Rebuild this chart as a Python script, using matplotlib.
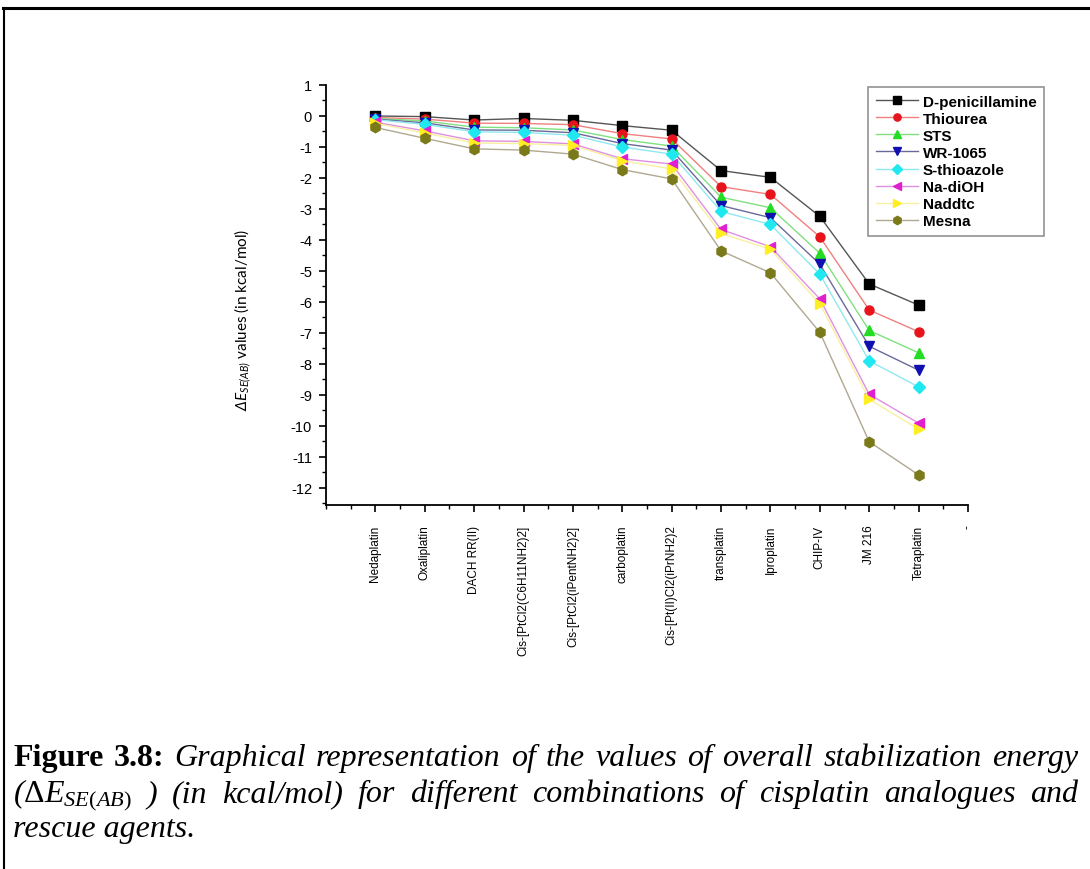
import matplotlib.pyplot as plt
from matplotlib.lines import Line2D
from matplotlib.ticker import MultipleLocator

plt.rcParams['axes.unicode_minus'] = False
plt.rcParams['mathtext.fontset'] = 'custom'
plt.rcParams['mathtext.rm'] = 'Liberation Serif'
plt.rcParams['mathtext.it'] = 'Liberation Serif:italic'
plt.rcParams['mathtext.sf'] = 'Lato:italic'

# drugs (x categories)
drugs = ['Nedaplatin', 'Oxaliplatin', 'DACH RR(II)', 'Cis-[PtCl2(C6H11NH2)2]',
         'Cis-[PtCl2(iPentNH2)2]', 'carboplatin', 'Cis-[Pt(II)Cl2(iPrNH2)2',
         'transplatin', 'Iproplatin', 'CHIP-IV', 'JM 216', 'Tetraplatin']

# rescue agents, values in kcal/mol
d_penicillamine = [0.0, -0.02, -0.13, -0.08, -0.14, -0.31, -0.46, -1.76, -1.98, -3.24, -5.42, -6.1]
thiourea = [-0.05, -0.1, -0.23, -0.24, -0.28, -0.57, -0.74, -2.28, -2.53, -3.9, -6.26, -6.96]
sts = [-0.08, -0.16, -0.36, -0.38, -0.45, -0.76, -0.97, -2.62, -2.96, -4.43, -6.92, -7.64]
wr1065 = [-0.1, -0.22, -0.45, -0.46, -0.54, -0.89, -1.1, -2.89, -3.28, -4.78, -7.43, -8.2]
s_thioazole = [-0.12, -0.27, -0.51, -0.53, -0.62, -1.0, -1.23, -3.08, -3.5, -5.1, -7.9, -8.74]
na_dioh = [-0.2, -0.48, -0.8, -0.82, -0.9, -1.38, -1.55, -3.66, -4.22, -5.9, -8.98, -9.91]
naddtc = [-0.24, -0.55, -0.87, -0.89, -0.95, -1.44, -1.71, -3.79, -4.3, -6.06, -9.14, -10.1]
mesna = [-0.37, -0.72, -1.06, -1.1, -1.23, -1.73, -2.03, -4.35, -5.06, -6.98, -10.51, -11.58]

series = [
    ('D-penicillamine', d_penicillamine, 's', 'black', '#555555'),
    ('Thiourea', thiourea, 'o', '#e8141c', '#f08080'),
    ('STS', sts, '^', '#22dd22', '#80e080'),
    ('WR-1065', wr1065, 'v', '#1010b0', '#6a6a9a'),
    ('S-thioazole', s_thioazole, 'D', '#20e8f0', '#90e8f0'),
    ('Na-diOH', na_dioh, '<', '#e020d0', '#e090e0'),
    ('Naddtc', naddtc, '>', '#ffee22', '#f8f0a0'),
    ('Mesna', mesna, 'h', '#7a7a1a', '#b0a890'),
]

W, H = 1090, 870
fig = plt.figure(figsize=(W / 100, H / 100), dpi=100)
ax = fig.add_axes([326 / W, 1 - 506 / H, (968 - 326) / W, (506 - 86) / H])

x = list(range(1, len(drugs) + 1))
for name, vals, mk, mc, lc in series:
    ms = 7.5 if mk == 'h' else (6 if mk == 'D' else 6.5)
    ax.plot(x, vals, color=lc, lw=1.0, marker=mk, markersize=ms,
            markerfacecolor=mc, markeredgecolor=mc, label=name)

ax.set_xlim(0, 13)
ax.set_ylim(-12.55, 1.0)
ax.set_xticks(x + [13])
ax.set_xticklabels(drugs + ['-'], rotation=90, fontsize=8.5, family='Liberation Sans')
ax.xaxis.set_minor_locator(MultipleLocator(0.5))
ax.yaxis.set_major_locator(MultipleLocator(1))
ax.yaxis.set_minor_locator(MultipleLocator(0.5))
for lab in ax.get_yticklabels():
    lab.set_family('Liberation Sans')
    lab.set_fontsize(10.5)
ax.tick_params(which='major', direction='out', length=5, width=1.2)
ax.tick_params(axis='x', which='major', pad=9)
ax.tick_params(axis='y', which='major', pad=5)
ax.tick_params(which='minor', direction='out', length=3, width=1.0)
ax.spines['top'].set_visible(False)
ax.spines['right'].set_visible(False)
ax.spines['left'].set_linewidth(1.3)
ax.spines['bottom'].set_linewidth(1.3)

fig.text(243 / W, 1 - 320 / H,
         r'$\mathsf{\Delta E}_{\mathsf{SE(AB)}}$ values (in kcal/mol)',
         rotation=90, ha='center', va='center', fontsize=11, family='Lato')

leg = fig.legend(loc='upper left', bbox_to_anchor=(868 / W, 1 - 88 / H),
                 borderaxespad=0, frameon=True, fancybox=False, edgecolor='#777777',
                 prop={'family': 'Liberation Sans', 'weight': 'bold', 'size': 11},
                 labelspacing=0.2, handlelength=2.8, handletextpad=0.3,
                 borderpad=0.5, markerscale=0.8)
leg.get_frame().set_linewidth(1.2)

# page border (table cell)
fig.add_artist(Line2D([3 / W, 1], [1 - 9 / H, 1 - 9 / H], color='black', lw=2.2))
fig.add_artist(Line2D([4 / W, 4 / W], [0, 1 - 9 / H], color='black', lw=1.5))

# caption, justified like the document
fs = 23
lines = [
    ([('Figure', 'bold'), ('3.8:', 'bold')] +
     [(w, 'italic') for w in 'Graphical representation of the values of overall stabilization energy'.split()], 766, True),
    ([(r'($\mathit{\Delta E}_{\mathit{SE(AB)}}$', 'italic'), (')', 'italic')] +
     [(w, 'italic') for w in '(in kcal/mol) for different combinations of cisplatin analogues and'.split()], 802, True),
    ([('rescue agents.', 'italic')], 837, False),
]
renderer = fig.canvas.get_renderer()
x0, x1 = 13, 1078
for words, yb, just in lines:
    texts = []
    for w, st in words:
        t = fig.text(0, 1 - yb / H, w, fontsize=fs, family='Liberation Serif',
                     fontweight='bold' if st == 'bold' else 'normal',
                     fontstyle='normal' if st == 'bold' else 'italic',
                     va='baseline', ha='left')
        texts.append(t)
    widths = [t.get_window_extent(renderer).width for t in texts]
    gap = (x1 - x0 - sum(widths)) / (len(texts) - 1) if just and len(texts) > 1 else 6
    xx = x0
    for t, wd in zip(texts, widths):
        t.set_x(xx / W)
        xx += wd + gap

fig.savefig('out.png', dpi=100)
